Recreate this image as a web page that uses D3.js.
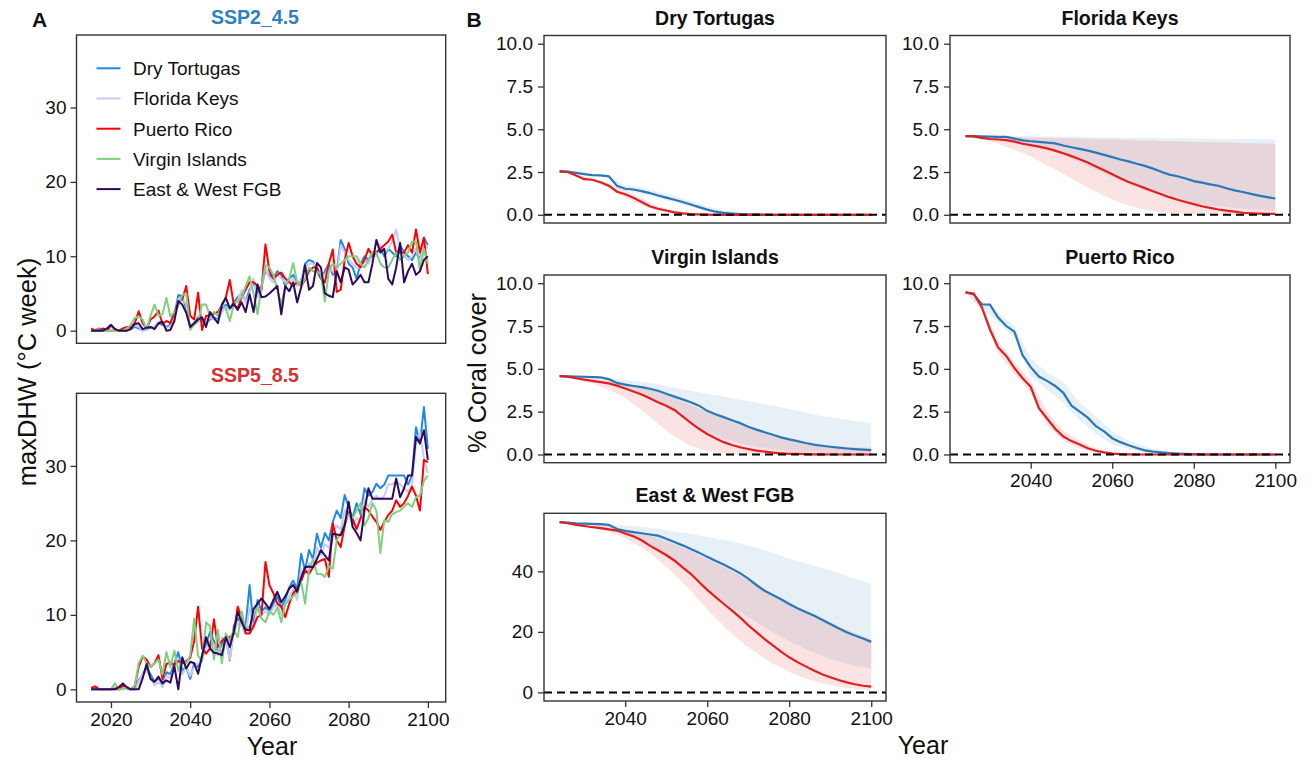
<!DOCTYPE html>
<html><head><meta charset="utf-8">
<script src="https://cdn.jsdelivr.net/npm/d3@7"></script>
<style>body{margin:0;background:#fff;} svg{display:block;font-family:"Liberation Sans",Arial,Helvetica,sans-serif;}</style>
</head><body><svg id="c" width="1316" height="760"></svg>
<script>
// ---------------- DATA: panel A (maxDHW) ----------------
const yearsA = d3.range(2015, 2101); // 86 years
const sitesA = ["Dry Tortugas", "Florida Keys", "Puerto Rico", "Virgin Islands", "East & West FGB"];
const siteColors = ["#1f88e8", "#c9c9f7", "#ff0000", "#7fcf7f", "#2e0a5c"];

const ssp2_DT = [0,0.1,0.3,0,0,0,0,0,0,0, 0.2,0.5,0.3,0,0.2,0.4,0.5,1.0,0.8,0.5, 0.8,2.0,4.8,4.6,3.0,0.6,1.0,1.8,1.2,1.0,
  1.5,1.8,1.5,3.0,3.5,3.0,3.8,4.5,5.0,4.0, 5.5,6.5,5.0,6.0,8.0,7.5,7.0,8.0,7.5,6.0, 7.0,7.5,6.5,6.5,9.0,9.5,9.3,8.0,7.0,8.0,
  9.0,7.5,8.0,12.2,11.0,9.0,8.5,7.0,9.0,10.0, 9.5,10.5,10.5,11.0,10.0,11.0,10.5,10.0,11.5,10.5, 10.0,9.5,10.5,9.5,12.5,11.5];
const ssp2_FK = [0,0,0.2,0,0,0.1,0,0,0,0, 0.3,0.7,0.5,0,0.3,0.5,0.6,1.2,1.0,0.3, 0.6,1.8,4.2,4.5,3.5,0.3,0.8,1.5,1.0,1.0,
  1.8,1.5,1.3,2.5,3.2,2.8,3.5,4.0,5.5,3.8, 5.0,7.0,4.5,5.5,8.5,7.0,6.5,7.5,7.0,6.5, 6.5,7.0,6.0,7.0,8.5,9.0,9.0,8.5,7.5,7.5,
  8.5,8.0,7.5,11.5,10.5,9.5,9.0,8.5,8.5,9.5, 9.0,10.0,10.0,11.5,10.5,11.0,12.0,13.6,11.0,10.0, 9.5,10.0,11.0,9.0,12.0,11.0];
const ssp2_PR = [0.3,0,0.1,0.3,0,0.7,0.2,0,0.3,0.5, 0.4,1.0,2.6,1.0,0.3,1.5,1.9,2.7,0.9,1.3, 1.0,2.5,3.8,4.2,6.0,2.0,1.5,5.1,0.1,2.0,
  2.0,2.3,2.5,3.4,4.5,6.8,3.5,3.0,4.5,5.5, 6.5,6.5,6.0,5.5,11.6,8.0,7.0,7.5,7.8,7.0, 6.5,6.0,6.5,6.0,6.8,8.0,8.5,8.5,7.0,6.5,
  9.0,10.9,5.2,5.5,9.5,11.8,10.0,9.0,8.5,9.5, 11.0,10.0,10.5,11.0,11.5,12.0,12.9,10.5,10.5,10.5, 11.5,10.5,13.6,10.5,12.5,7.6];
const ssp2_VI = [0,0,0,0,0,0,0,0,0,0.3, 0.8,1.7,1.9,1.5,0.2,2.0,3.5,2.0,2.2,4.4, 1.9,2.5,3.3,4.8,5.0,0.1,0.8,1.2,3.5,3.5,
  2.0,2.5,2.0,3.5,3.0,1.3,3.5,4.0,4.5,6.0, 7.3,5.0,2.2,6.0,8.8,8.5,7.5,5.5,3.5,6.0, 7.0,9.1,6.5,6.0,7.0,8.5,8.0,8.0,7.5,3.9,
  8.0,9.0,8.5,9.0,9.5,10.0,10.0,10.0,9.0,8.5, 9.5,10.5,10.5,9.0,8.5,8.5,9.5,10.5,9.5,10.0, 10.5,12.0,12.0,8.0,11.0,9.0];
const ssp2_FGB = [0,0,0,0,0.3,0.8,0.2,0,0,0, 0.2,0.9,1.0,0.2,0.4,0.5,0.2,1.0,1.2,0, 0.1,1.3,4.0,3.5,2.4,0.5,1.0,1.5,1.8,0.5,
  2.5,1.7,1.0,3.5,4.4,3.0,3.6,2.8,3.8,2.5, 4.9,2.5,6.2,4.5,4.6,5.0,5.5,6.0,2.2,6.0, 5.3,6.5,3.8,5.8,8.8,5.5,6.0,9.1,8.5,5.0,
  4.7,4.5,8.0,6.5,8.5,8.2,6.2,6.8,7.5,6.5, 6.5,9.0,12.2,10.5,11.0,7.0,6.2,8.5,11.8,6.5, 8.0,9.0,7.5,8.0,9.5,10.0];

const ssp5_DT = [0,0,0,0,0,0,0,0,0.5,0, 0,0,1.2,2.0,3.0,2.0,1.0,1.5,0.8,2.3, 2.0,3.5,5.0,2.5,3.0,1.4,3.5,3.0,4.5,6.0,
  7.7,6.5,5.0,6.0,7.0,3.9,8.5,9.5,9.0,8.5, 14.0,8.4,12.0,10.5,11.0,10.5,11.5,12.5,11.0,12.0, 13.7,14.6,13.5,18.2,16.0,18.7,17.5,20.9,19.0,21.0,
  20.0,22.5,24.0,23.0,26.1,24.5,23.0,25.0,23.5,27.0, 26.0,26.5,27.6,27.0,27.5,28.7,28.7,28.7,28.7,28.7, 27.5,28.7,35.2,33.0,37.9,32.3];
const ssp5_FK = [0,0,0,0,0,0,0,0,0.3,0, 0,0,1.0,2.0,2.5,1.5,0.5,1.0,0.3,1.8, 1.5,3.0,4.0,2.0,3.0,1.8,3.0,3.5,4.0,5.5,
  6.5,6.0,4.5,7.0,6.5,4.0,7.5,9.0,8.5,7.5, 11.0,8.0,11.0,10.0,10.5,10.0,11.0,11.5,10.0,11.5, 12.5,13.5,12.0,16.0,15.5,17.0,16.5,19.0,18.0,19.5,
  19.0,21.0,22.0,21.5,24.0,23.5,22.0,23.0,22.5,25.5, 24.5,25.5,26.0,25.5,26.0,27.5,27.5,28.0,27.5,27.0, 26.5,27.5,33.0,34.5,31.0,29.0];
const ssp5_PR = [0.2,0.4,0,0,0,0,0.1,0,0.5,0.2, 0,0.4,3.0,4.4,4.0,3.0,3.5,4.6,1.4,3.4, 3.6,3.3,3.8,3.5,3.8,4.2,6.5,11.1,5.5,4.8,
  5.5,9.4,5.7,6.5,7.0,7.0,7.5,11.1,9.5,7.5, 7.5,8.5,9.7,10.0,17.1,14.0,12.9,11.5,11.1,9.7, 11.5,12.9,13.5,14.5,16.0,15.5,16.4,17.0,17.3,17.5,
  15.1,22.3,20.0,19.1,22.0,23.8,22.9,21.5,23.0,24.5, 24.0,23.2,22.5,21.4,22.5,23.4,24.0,25.4,24.5,25.0, 26.0,27.2,26.0,24.0,30.8,30.5];
const ssp5_VI = [0,0,0,0,0,0,0.8,0,0,0.3, 0,0.5,3.5,4.5,3.5,3.0,3.5,4.0,2.0,5.0, 3.0,5.2,2.5,4.0,3.5,4.5,9.5,4.5,3.8,9.0,
  8.5,4.0,8.0,3.5,7.5,6.5,8.0,7.0,10.5,8.0, 8.5,10.0,11.0,9.5,9.0,10.5,10.0,11.0,9.0,11.5, 12.0,12.5,13.0,14.5,11.5,16.0,17.5,15.5,15.5,15.1,
  16.5,16.2,20.0,21.0,22.5,23.5,23.0,24.0,25.0,22.0, 23.0,25.0,24.0,18.3,22.7,22.5,23.5,23.8,24.0,24.5, 25.0,24.5,25.8,26.0,28.0,28.7];
const ssp5_FGB = [0,0,0,0,0,0,0,0.3,0.8,0.3, 0,0,0,1.5,3.4,1.4,1.0,1.7,0.8,1.2, 0.9,3.1,0,4.3,2.8,3.7,3.5,2.1,4.5,7.0,
  5.5,4.9,4.8,4.6,7.0,5.7,7.7,10.4,9.0,8.0, 7.9,10.8,11.5,12.2,11.5,10.8,12.0,13.1,11.7,12.5, 13.5,14.0,13.1,15.0,16.4,16.5,16.4,17.5,18.7,18.0,
  17.3,20.9,20.8,20.7,22.0,25.2,21.8,21.0,20.0,24.0, 27.0,25.6,25.6,25.6,25.6,25.6,25.6,28.3,25.8,27.0, 28.7,28.7,33.9,33.0,34.8,30.8];

const ssp2Series = [ssp2_DT, ssp2_FK, ssp2_PR, ssp2_VI, ssp2_FGB];
const ssp5Series = [ssp5_DT, ssp5_FK, ssp5_PR, ssp5_VI, ssp5_FGB];
const ticksA_y = [0, 10, 20, 30];
const ticksX = [2020, 2040, 2060, 2080, 2100];
const ticksB_x = [2040, 2060, 2080, 2100];

// ---------------- DATA: panel B (% coral cover) ----------------
const yearsB = d3.range(2024, 2101, 2);     // 39 points for mean lines
const yearsBand = d3.range(2024, 2101, 4);  // 20 points for ranges

const dt_ssp2 = [2.55,2.52,2.45,2.38,2.32,2.3,2.25,1.7,1.52,1.48,1.38,1.27,1.13,1.0,0.88,0.75,0.6,0.45,0.3,0.18,0.11,0.07,0.04,0.03,0.02,0.01,0,0,0,0,0,0,0,0,0,0,0,0,0];
const dt_ssp5 = [2.52,2.5,2.3,2.08,2.05,1.9,1.7,1.35,1.2,1.0,0.75,0.5,0.35,0.25,0.14,0.08,0.04,0.02,0.01,0,0,0,0,0,0,0,0,0,0,0,0,0,0,0,0,0,0,0,0];
const dt_ssp2_hi = [2.55,2.48,2.36,2.3,1.72,1.6,1.35,1.1,0.8,0.5,0.25,0.12,0.05,0.02,0.01,0,0,0,0,0];
const dt_ssp2_lo = [2.55,2.42,2.28,2.2,1.4,1.25,1.0,0.72,0.45,0.2,0.06,0.02,0,0,0,0,0,0,0,0];
const dt_ssp5_hi = [2.52,2.35,2.1,1.85,1.45,0.95,0.5,0.25,0.1,0.04,0.01,0,0,0,0,0,0,0,0,0];
const dt_ssp5_lo = [2.52,2.25,1.98,1.55,1.0,0.55,0.22,0.08,0.02,0,0,0,0,0,0,0,0,0,0,0];

const fk_ssp2 = [4.6,4.6,4.58,4.57,4.56,4.55,4.45,4.35,4.3,4.26,4.22,4.17,4.05,3.95,3.85,3.75,3.63,3.5,3.37,3.23,3.12,2.98,2.86,2.7,2.52,2.35,2.25,2.12,1.97,1.88,1.78,1.7,1.55,1.43,1.33,1.22,1.12,1.03,0.95];
const fk_ssp5 = [4.6,4.58,4.5,4.43,4.4,4.36,4.28,4.15,4.07,3.98,3.88,3.75,3.6,3.43,3.25,3.05,2.82,2.6,2.37,2.13,1.92,1.74,1.56,1.38,1.2,1.03,0.88,0.75,0.62,0.5,0.4,0.31,0.24,0.18,0.12,0.09,0.07,0.05,0.05];
const fk_ssp2_hi = [4.6,4.6,4.6,4.6,4.6,4.58,4.56,4.55,4.53,4.52,4.5,4.5,4.48,4.47,4.46,4.45,4.44,4.43,4.42,4.4];
const fk_ssp2_lo = [4.6,4.55,4.45,4.3,4.15,3.8,3.45,3.05,2.6,2.2,1.8,1.45,1.15,0.9,0.7,0.55,0.45,0.36,0.3,0.25];
const fk_ssp5_hi = [4.6,4.58,4.56,4.54,4.52,4.5,4.48,4.45,4.42,4.4,4.37,4.34,4.32,4.3,4.27,4.24,4.22,4.2,4.17,4.15];
const fk_ssp5_lo = [4.6,4.4,4.15,3.8,3.4,2.9,2.4,1.85,1.35,0.9,0.55,0.3,0.15,0.07,0.03,0.01,0,0,0,0];

const vi_ssp2 = [4.57,4.56,4.55,4.54,4.52,4.5,4.4,4.18,4.08,4.0,3.93,3.84,3.72,3.55,3.38,3.22,3.05,2.85,2.55,2.35,2.18,2.0,1.83,1.62,1.45,1.3,1.15,1.0,0.88,0.78,0.67,0.58,0.51,0.45,0.4,0.35,0.31,0.28,0.26];
const vi_ssp5 = [4.57,4.55,4.45,4.37,4.3,4.22,4.15,4.02,3.85,3.68,3.5,3.28,3.05,2.85,2.6,2.22,1.85,1.5,1.2,0.95,0.72,0.55,0.42,0.32,0.23,0.17,0.11,0.07,0.04,0.03,0.02,0.01,0.01,0,0,0,0,0,0];
const vi_ssp2_hi = [4.57,4.56,4.53,4.48,4.35,4.25,4.1,3.9,3.72,3.55,3.38,3.2,3.03,2.85,2.65,2.45,2.25,2.1,1.95,1.84];
const vi_ssp2_lo = [4.57,4.54,4.48,4.3,3.95,3.55,3.05,2.45,1.85,1.35,0.95,0.65,0.45,0.3,0.2,0.13,0.09,0.06,0.04,0.03];
const vi_ssp5_hi = [4.57,4.5,4.42,4.32,4.15,3.95,3.65,3.3,2.9,2.5,2.1,1.72,1.38,1.08,0.85,0.68,0.55,0.47,0.42,0.4];
const vi_ssp5_lo = [4.57,4.38,4.15,3.8,3.3,2.6,1.8,1.05,0.5,0.2,0.07,0.02,0,0,0,0,0,0,0,0];

const pr_ssp2 = [9.47,9.35,8.77,8.75,8.0,7.5,7.17,5.8,5.1,4.55,4.3,4.0,3.6,2.85,2.5,2.15,1.65,1.35,0.95,0.72,0.54,0.38,0.24,0.17,0.12,0.08,0.05,0.03,0.02,0.01,0,0,0,0,0,0,0,0,0];
const pr_ssp5 = [9.47,9.4,8.6,7.3,6.25,5.75,5.05,4.45,3.95,2.7,2.1,1.5,1.05,0.78,0.58,0.36,0.22,0.12,0.05,0.02,0.01,0,0,0,0,0,0,0,0,0,0,0,0,0,0,0,0,0,0];
const pr_ssp2_hi = [9.47,8.9,8.3,7.5,5.6,4.8,4.2,3.0,2.2,1.35,0.8,0.45,0.22,0.1,0.04,0.02,0.01,0,0,0];
const pr_ssp2_lo = [9.47,8.6,7.7,6.8,4.6,3.8,3.0,2.0,1.2,0.6,0.3,0.1,0.04,0.01,0,0,0,0,0,0];
const pr_ssp5_hi = [9.47,8.8,6.6,5.4,4.3,2.5,1.4,0.8,0.35,0.12,0.04,0.01,0,0,0,0,0,0,0,0];
const pr_ssp5_lo = [9.47,8.4,5.9,4.7,3.6,1.7,0.8,0.35,0.1,0.02,0,0,0,0,0,0,0,0,0,0];

const fgb_ssp2 = [56.3,56.1,55.9,55.8,55.7,55.6,55.4,54.0,53.4,53.0,52.6,52.2,51.8,50.8,49.7,48.6,47.4,46.2,44.8,43.5,42.3,40.9,39.4,37.6,35.5,33.6,32.2,30.8,29.2,27.8,26.6,25.4,24.0,22.6,21.2,19.9,18.8,17.8,16.7];
const fgb_ssp5 = [56.3,55.9,55.4,55.0,54.6,54.3,53.9,53.5,52.5,51.6,50.3,48.5,47.0,45.4,43.6,41.3,39.2,36.5,33.9,31.6,29.3,27.1,24.8,22.2,19.9,17.6,15.5,13.5,11.6,10.0,8.6,7.2,6.0,5.0,4.1,3.3,2.7,2.2,1.9];
const fgb_ssp2_hi = [56.3,56.1,55.9,55.6,55.2,54.7,54.1,53.2,52.4,51.4,50.4,49.3,47.8,46.2,44.2,42.6,41.2,39.5,37.6,35.9];
const fgb_ssp2_lo = [56.3,55.8,55.3,54.6,52.0,49.8,46.5,42.5,38.5,34.0,30.0,26.5,23.2,20.0,17.0,14.3,12.0,10.2,8.8,7.9];
const fgb_ssp5_hi = [56.3,56.0,55.6,55.0,53.8,52.6,51.0,49.0,46.7,44.2,41.5,38.6,35.5,32.3,29.5,27.0,24.5,21.9,19.6,17.5];
const fgb_ssp5_lo = [56.3,55.5,54.5,53.0,51.0,48.0,44.0,39.0,33.5,27.5,22.0,17.0,13.0,9.5,6.8,4.6,3.0,1.9,1.2,0.8];

const ticksB_small = [0, 2.5, 5, 7.5, 10];
const ticksB_fgb = [0, 20, 40];

// ---------------- STYLE ----------------
const svg = d3.select("#c");
const FRAME = "#333333";
const BLUE = "#2b78b8", RED = "#e0201f";
const BLUE_FILL = "#3a7fc0", RED_FILL = "#e31a1c";

function frame(g, x0, y0, x1, y1) {
  g.append("rect").attr("x", x0).attr("y", y0).attr("width", x1 - x0).attr("height", y1 - y0)
    .attr("fill", "none").attr("stroke", FRAME).attr("stroke-width", 1.4);
}
function styleAxis(sel, fs) {
  sel.select(".domain").remove();
  sel.selectAll(".tick line").attr("stroke", FRAME).attr("stroke-width", 1.3);
  sel.selectAll(".tick text").attr("fill", "#111").attr("font-size", fs)
     .attr("font-family", '"Liberation Sans",Arial,sans-serif');
}

// ---------------- PANEL A ----------------
const xA = d3.scaleLinear().domain([2011.3, 2104.5]).range([76.5, 445.7]);
function panelA(top, bottom, series, title, titleColor, showX) {
  const y = d3.scaleLinear().domain([-1.7, 39.75]).range([bottom, top]);
  const g = svg.append("g");
  const clipId = "clipA" + Math.round(top);
  g.append("clipPath").attr("id", clipId).append("rect")
    .attr("x", 76.5).attr("y", top).attr("width", 445.7 - 76.5).attr("height", bottom - top);
  const lg = g.append("g").attr("clip-path", `url(#${clipId})`);
  const line = d3.line().x((d, i) => xA(yearsA[i])).y(d => y(d));
  series.forEach((s, k) => {
    lg.append("path").attr("d", line(s)).attr("fill", "none")
      .attr("stroke", siteColors[k]).attr("stroke-width", 2).attr("stroke-linejoin", "round");
  });
  const ay = g.append("g").attr("transform", "translate(76.5,0)")
    .call(d3.axisLeft(y).tickValues(ticksA_y).tickSize(6).tickPadding(4).tickFormat(d3.format("d")));
  styleAxis(ay, 19);
  if (showX) {
    const ax = g.append("g").attr("transform", `translate(0,${bottom})`)
      .call(d3.axisBottom(xA).tickValues(ticksX).tickSize(6).tickPadding(5).tickFormat(d3.format("d")));
    styleAxis(ax, 19);
  }
  frame(g, 76.5, top, 445.7, bottom);
  g.append("text").attr("x", 255).attr("y", top - 11).attr("text-anchor", "middle")
    .attr("font-size", 19.5).attr("font-weight", "bold").attr("fill", titleColor).text(title);
  return g;
}
const gTop = panelA(35, 343.3, ssp2Series, "SSP2_4.5", "#2f80c2", false);
panelA(393.3, 702, ssp5Series, "SSP5_8.5", "#d9302d", true);

// legend
sitesA.forEach((s, k) => {
  const cy = 68.3 + k * 30.2;
  gTop.append("line").attr("x1", 96.5).attr("x2", 120.5).attr("y1", cy).attr("y2", cy)
    .attr("stroke", siteColors[k]).attr("stroke-width", 2);
  gTop.append("text").attr("x", 133).attr("y", cy + 6.8).attr("font-size", 19).attr("fill", "#111").text(s);
});

svg.append("text").attr("transform", "translate(36,372) rotate(-90)").attr("text-anchor", "middle")
  .attr("font-size", 25.5).attr("fill", "#111").text("maxDHW (°C week)");
svg.append("text").attr("x", 272).attr("y", 755).attr("text-anchor", "middle")
  .attr("font-size", 25).attr("fill", "#111").text("Year");

// ---------------- PANEL B ----------------
function panelB(cfg) {
  const { x0, x1, y0, y1, title, ydom, yticks, yfmt, showX, m2, m5, h2, l2, h5, l5 } = cfg;
  const x = d3.scaleLinear().domain([2020.2, 2103.6]).range([x0, x1]);
  const y = d3.scaleLinear().domain(ydom).range([y1, y0]);
  const g = svg.append("g");
  const area = (lo, hi) => d3.area().x((d, i) => x(yearsBand[i])).y0((d, i) => y(lo[i])).y1((d, i) => y(hi[i]))(lo);
  const line = d3.line().x((d, i) => x(yearsB[i])).y(d => y(d));
  g.append("path").attr("d", area(l2, h2)).attr("fill", BLUE_FILL).attr("fill-opacity", 0.12);
  g.append("path").attr("d", area(l5, h5)).attr("fill", RED_FILL).attr("fill-opacity", 0.12);
  g.append("path").attr("d", line(m2)).attr("fill", "none").attr("stroke", BLUE).attr("stroke-width", 2.2);
  g.append("path").attr("d", line(m5)).attr("fill", "none").attr("stroke", RED).attr("stroke-width", 2.2);
  g.append("line").attr("x1", x0).attr("x2", x1).attr("y1", y(0)).attr("y2", y(0))
    .attr("stroke", "#000").attr("stroke-width", 2).attr("stroke-dasharray", "8,5");
  const ay = g.append("g").attr("transform", `translate(${x0},0)`)
    .call(d3.axisLeft(y).tickValues(yticks).tickSize(6).tickPadding(5).tickFormat(yfmt));
  styleAxis(ay, 19);
  if (showX) {
    const ax = g.append("g").attr("transform", `translate(0,${y1})`)
      .call(d3.axisBottom(x).tickValues(ticksB_x).tickSize(6).tickPadding(5).tickFormat(d3.format("d")));
    styleAxis(ax, 19);
  }
  frame(g, x0, y0, x1, y1);
  g.append("text").attr("x", (x0 + x1) / 2).attr("y", y0 - 11).attr("text-anchor", "middle")
    .attr("font-size", 19.5).attr("font-weight", "bold").attr("fill", "#111").text(title);
}
const f1 = d3.format(".1f"), fd = d3.format("d");
const dSmall = [-0.48, 10.48];
panelB({ x0: 544, x1: 886, y0: 35.5, y1: 223, title: "Dry Tortugas", ydom: dSmall, yticks: ticksB_small, yfmt: f1, showX: false,
  m2: dt_ssp2, m5: dt_ssp5, h2: dt_ssp2_hi, l2: dt_ssp2_lo, h5: dt_ssp5_hi, l5: dt_ssp5_lo });
panelB({ x0: 950, x1: 1290, y0: 35.5, y1: 223, title: "Florida Keys", ydom: dSmall, yticks: ticksB_small, yfmt: f1, showX: false,
  m2: fk_ssp2, m5: fk_ssp5, h2: fk_ssp2_hi, l2: fk_ssp2_lo, h5: fk_ssp5_hi, l5: fk_ssp5_lo });
panelB({ x0: 544, x1: 886, y0: 275, y1: 462.7, title: "Virgin Islands", ydom: dSmall, yticks: ticksB_small, yfmt: f1, showX: false,
  m2: vi_ssp2, m5: vi_ssp5, h2: vi_ssp2_hi, l2: vi_ssp2_lo, h5: vi_ssp5_hi, l5: vi_ssp5_lo });
panelB({ x0: 950, x1: 1290, y0: 275, y1: 462.7, title: "Puerto Rico", ydom: dSmall, yticks: ticksB_small, yfmt: f1, showX: true,
  m2: pr_ssp2, m5: pr_ssp5, h2: pr_ssp2_hi, l2: pr_ssp2_lo, h5: pr_ssp5_hi, l5: pr_ssp5_lo });
panelB({ x0: 544, x1: 886, y0: 513.3, y1: 701, title: "East & West FGB", ydom: [-2.85, 59.2], yticks: ticksB_fgb, yfmt: fd, showX: true,
  m2: fgb_ssp2, m5: fgb_ssp5, h2: fgb_ssp2_hi, l2: fgb_ssp2_lo, h5: fgb_ssp5_hi, l5: fgb_ssp5_lo });

svg.append("text").attr("transform", "translate(486,373) rotate(-90)").attr("text-anchor", "middle")
  .attr("font-size", 25.5).attr("fill", "#111").text("% Coral cover");
svg.append("text").attr("x", 923).attr("y", 754).attr("text-anchor", "middle")
  .attr("font-size", 25).attr("fill", "#111").text("Year");

// panel letters
svg.append("text").attr("x", 32).attr("y", 27).attr("font-size", 21).attr("font-weight", "bold").attr("fill", "#111").text("A");
svg.append("text").attr("x", 466.5).attr("y", 27).attr("font-size", 21).attr("font-weight", "bold").attr("fill", "#111").text("B");
</script></body></html>
